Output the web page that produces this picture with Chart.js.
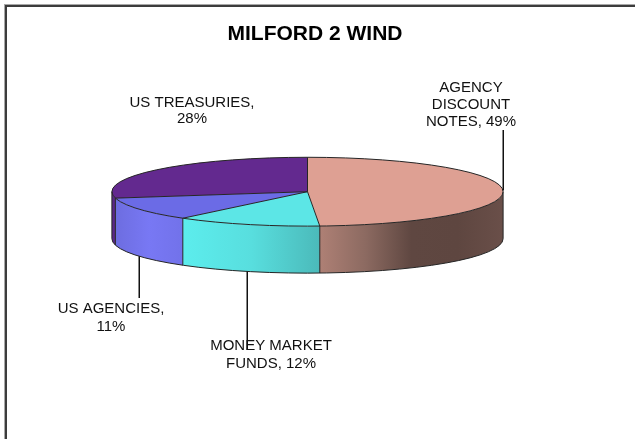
<!DOCTYPE html>
<html>
<head>
<meta charset="utf-8">
<script src="https://cdn.jsdelivr.net/npm/chart.js@4.4.0/dist/chart.umd.min.js"></script>
<style>
  html, body { margin: 0; padding: 0; background: #fff; }
  #wrap { position: relative; width: 635px; height: 439px; }
</style>
</head>
<body>
<div id="wrap"><canvas id="milford" width="635" height="439"></canvas></div>
<script>
"use strict";
// datos del grafico
const titulo = "MILFORD 2 WIND";
const categorias = ["AGENCY DISCOUNT NOTES", "MONEY MARKET FUNDS", "US AGENCIES", "US TREASURIES"];
const valores = [49, 12, 11, 28];
const coloresTapa = ["#DEA093", "#5CE6E6", "#6B6BE6", "#63298F"];
const coloresLado = [
  ["#AE8075", "#8C6A61", "#5F4741", "#5E4640", "#6A4F49"],
  ["#5CEDED", "#58DEDE", "#4BBABA"],
  ["#6D6DE0", "#7878F4", "#7272EA"],
  ["#5A2888", "#5A2888"]
];
// texto de cada etiqueta (lineas)
const textos = [
  ["AGENCY", "DISCOUNT", "NOTES, 49%"],
  ["MONEY MARKET", "FUNDS, 12%"],
  ["US AGENCIES,", "11%"],
  ["US TREASURIES,", "28%"]
];

const CY = 191.7;      // centro vertical de la tapa en pantalla
const K = 0.176;       // aplastamiento de la elipse
const PROF = 47;       // profundidad del cilindro
const FUENTE = "'Liberation Sans', Arial, sans-serif";

function elipse(arc, a, dy) {
  const R = arc.outerRadius;
  return { x: arc.x + R * Math.cos(a), y: CY + dy + R * K * Math.sin(a) };
}

const pie3d = {
  id: "pie3d",
  beforeDraw(chart) {
    const ctx = chart.ctx;
    ctx.save();
    ctx.fillStyle = "#fff";
    ctx.fillRect(0, 0, chart.width, chart.height);
    // marco
    ctx.fillStyle = "#a8a8a8";
    ctx.fillRect(4, 4, chart.width, 1);
    ctx.fillRect(4, 4, 1, chart.height);
    ctx.fillStyle = "#3c3c3c";
    ctx.fillRect(5, 5, chart.width, 2);
    ctx.fillRect(5, 5, 2, chart.height);
    ctx.restore();
  },
  beforeDatasetsDraw(chart) {
    const ctx = chart.ctx;
    const arcs = chart.getDatasetMeta(0).data;
    const c = arcs[0];
    const R = c.outerRadius;
    // paredes laterales (solo la mitad frontal es visible)
    arcs.forEach((arc, i) => {
      const a0 = Math.max(arc.startAngle, 0);
      const a1 = Math.min(arc.endAngle, Math.PI);
      if (a1 <= a0) return;
      const p0 = elipse(c, a0, 0), p1 = elipse(c, a1, 0);
      const g = ctx.createLinearGradient(Math.min(p0.x, p1.x), 0, Math.max(p0.x, p1.x), 0);
      const st = coloresLado[i];
      st.forEach((col, j) => g.addColorStop(j / (st.length - 1), col));
      ctx.save();
      ctx.beginPath();
      ctx.ellipse(c.x, CY, R, R * K, 0, a0, a1, false);
      ctx.ellipse(c.x, CY + PROF, R, R * K, 0, a1, a0, true);
      ctx.closePath();
      ctx.fillStyle = g;
      ctx.fill();
      ctx.restore();
    });
    // la tapa se dibuja aplastada por Chart.js
    ctx.save();
    ctx.translate(0, CY);
    ctx.scale(1, K);
    ctx.translate(0, -c.y);
  },
  afterDatasetsDraw(chart) {
    const ctx = chart.ctx;
    ctx.restore();
    const arcs = chart.getDatasetMeta(0).data;
    const c = arcs[0];
    const R = c.outerRadius;
    ctx.save();
    ctx.strokeStyle = "#262626";
    ctx.lineWidth = 1;
    // contorno de la tapa
    ctx.beginPath();
    ctx.ellipse(c.x, CY, R, R * K, 0, 0, Math.PI * 2);
    ctx.stroke();
    // radios
    arcs.forEach(arc => {
      const p = elipse(c, arc.startAngle, 0);
      ctx.beginPath();
      ctx.moveTo(c.x, CY);
      ctx.lineTo(p.x, p.y);
      ctx.stroke();
    });
    // borde inferior y aristas
    ctx.beginPath();
    ctx.ellipse(c.x, CY + PROF, R, R * K, 0, 0, Math.PI);
    ctx.stroke();
    const aristas = [0, Math.PI];
    arcs.forEach(arc => {
      let a = arc.startAngle;
      if (a > 0 && a < Math.PI) aristas.push(a);
    });
    aristas.forEach(a => {
      const p = elipse(c, a, 0);
      ctx.beginPath();
      ctx.moveTo(p.x, p.y);
      ctx.lineTo(p.x, p.y + PROF);
      ctx.stroke();
    });
    ctx.restore();

    // lineas guia
    ctx.save();
    ctx.strokeStyle = "#111";
    ctx.lineWidth = 1.5;
    const medio = arcs.map(arc => (arc.startAngle + arc.endAngle) / 2);
    const guias = [
      { i: 0, dy: 0, hasta: 130 },
      { i: 1, dy: PROF, hasta: 350 },
      { i: 2, dy: PROF, hasta: 298 }
    ];
    guias.forEach(gd => {
      const p = elipse(c, medio[gd.i], gd.dy);
      ctx.beginPath();
      ctx.moveTo(Math.round(p.x) + 0.25, p.y);
      ctx.lineTo(Math.round(p.x) + 0.25, gd.hasta);
      ctx.stroke();
    });
    ctx.restore();

    // etiquetas
    const posiciones = [
      { x: 471, y: 88, h: 16.8 },
      { x: 271, y: 346, h: 17.5 },
      { x: 111, y: 309, h: 17.5 },
      { x: 192, y: 102.7, h: 16.5 }
    ];
    ctx.save();
    ctx.fillStyle = "#111";
    ctx.font = "15px " + FUENTE;
    ctx.textAlign = "center";
    ctx.textBaseline = "middle";
    textos.forEach((lineas, i) => {
      const ps = posiciones[i];
      lineas.forEach((t, j) => ctx.fillText(t, ps.x, ps.y + j * ps.h));
    });
    // titulo
    ctx.fillStyle = "#000";
    ctx.font = "bold 21px " + FUENTE;
    ctx.fillText(titulo, 315, 34);
    ctx.restore();
  }
};

const ctx = document.getElementById("milford").getContext("2d");
const grafico = new Chart(ctx, {
  type: "pie",
  data: {
    labels: categorias,
    datasets: [{
      data: valores,
      backgroundColor: coloresTapa,
      borderWidth: 0,
      radius: 195.6
    }]
  },
  options: {
    responsive: false,
    animation: false,
    events: [],
    layout: { padding: { left: 0, right: 20, top: 0, bottom: 0 } },
    plugins: {
      legend: { display: false },
      tooltip: { enabled: false },
      title: { display: false }
    }
  },
  plugins: [pie3d]
});
</script>
</body>
</html>
